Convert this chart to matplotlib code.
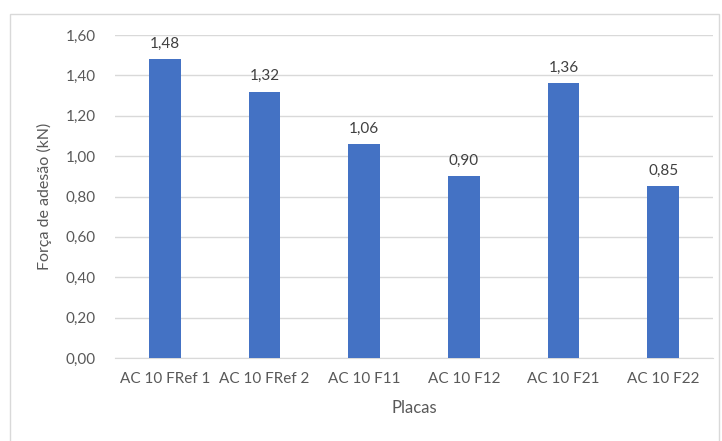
import matplotlib
matplotlib.use("Agg")
import matplotlib.pyplot as plt
from matplotlib.patches import Rectangle

categories = ["AC 10 FRef 1", "AC 10 FRef 2", "AC 10 F11", "AC 10 F12", "AC 10 F21", "AC 10 F22"]
values = [1.48, 1.32, 1.06, 0.90, 1.36, 0.85]
yticks = [0.0, 0.2, 0.4, 0.6, 0.8, 1.0, 1.2, 1.4, 1.6]

plt.rcParams['font.family'] = ['Lato', 'DejaVu Sans']
text_color = "#595959"
grid_color = "#d9d9d9"
bar_color = "#4472C4"

fig = plt.figure(figsize=(7.22, 4.41), dpi=100)
ax = fig.add_axes([115/722, 1-358/441, 598/722, 323/441])

x = range(len(categories))
ax.bar(x, values, width=0.32, color=bar_color, zorder=3)
for xi, v in zip(x, values):
    ax.annotate(f"{v:.2f}".replace(".", ","), (xi, v), xytext=(0, 6),
                textcoords="offset points", ha="center", va="bottom",
                fontsize=11, color="#404040")

ax.set_xlim(-0.5, len(categories) - 0.5)
ax.set_ylim(0, 1.6)
ax.set_yticks(yticks)
ax.set_yticklabels([f"{t:.2f}".replace(".", ",") for t in yticks])
ax.set_xticks(list(x))
ax.set_xticklabels(categories)
ax.yaxis.grid(True, color=grid_color, linewidth=1)
ax.set_axisbelow(True)
for s in ["top", "right", "left"]:
    ax.spines[s].set_visible(False)
ax.spines["bottom"].set_color(grid_color)
ax.tick_params(axis="both", length=0, colors=text_color, labelsize=11)
ax.tick_params(axis="x", pad=10)
ax.tick_params(axis="y", pad=14)

ax.set_ylabel("Força de adesão (kN)", fontsize=11.5, color=text_color, labelpad=10)
ax.set_xlabel("Placas", fontsize=12, color=text_color, labelpad=10)

fig.patches.append(Rectangle((10/722, -0.1), 709/722, 1.1 - 14/441,
                             transform=fig.transFigure, fill=False,
                             edgecolor=grid_color, linewidth=1))

fig.savefig("out.png", dpi=100)
